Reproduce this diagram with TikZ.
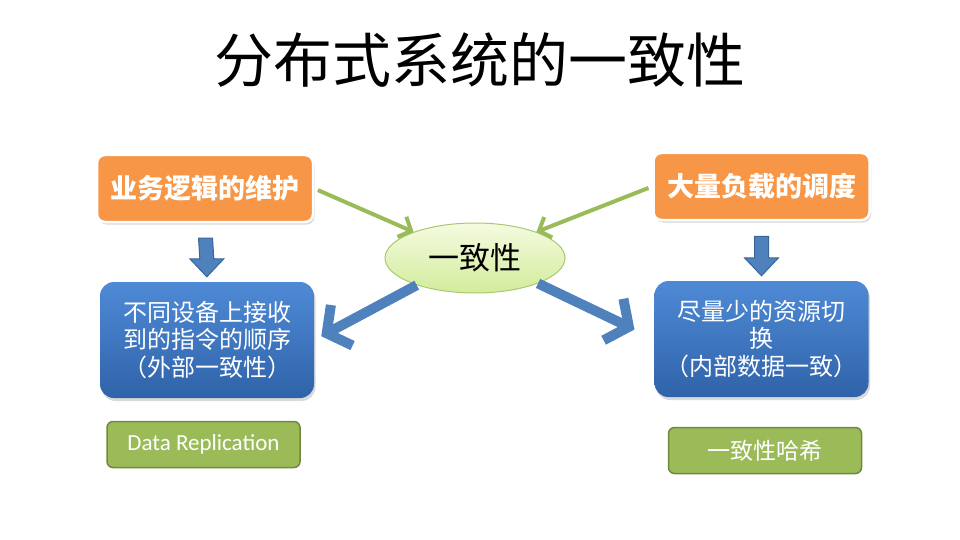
\documentclass[tikz,border=0pt]{standalone}
\usepackage{fontspec}
\setmainfont{Carlito}
\newfontfamily\cjk{Noto Sans CJK SC}
\usetikzlibrary{shapes.geometric, arrows.meta, shadows, calc}
\definecolor{orangefill}{HTML}{F79646}
\definecolor{bluetop}{HTML}{4F8AD6}
\definecolor{bluebot}{HTML}{2F63A9}
\definecolor{leaf}{HTML}{9BBB59}
\definecolor{leafdark}{HTML}{71893F}
\definecolor{paletop}{HTML}{F4FBE0}
\definecolor{palebot}{HTML}{D3EC9C}
\definecolor{paleedge}{HTML}{A9C970}
\definecolor{arrowblue}{HTML}{4F81BD}
\definecolor{arrowedge}{HTML}{3A6597}

\begin{document}
\begin{tikzpicture}[x=1pt, y=1pt, font=\cjk,
  orangebox/.style={rectangle, rounded corners=8pt, fill=orangefill, draw=white,
    line width=2.5pt, minimum width=216pt, minimum height=67pt, text=white,
    font=\cjk\bfseries\fontsize{27}{30}\selectfont,
    drop shadow={shadow xshift=1.5pt, shadow yshift=-2.5pt, opacity=0.3}},
  bluebox/.style={rectangle, rounded corners=14pt, top color=bluetop, bottom color=bluebot,
    draw=none, minimum width=214pt, minimum height=116pt, text=white, align=center,
    font=\cjk\fontsize{24}{27.5}\selectfont,
    drop shadow={shadow xshift=1.5pt, shadow yshift=-3pt, opacity=0.3}},
  greenbox/.style={rectangle, rounded corners=6pt, fill=leaf, draw=leafdark,
    line width=1.5pt, minimum width=193pt, minimum height=46pt, text=white},
  core/.style={ellipse, top color=paletop, bottom color=palebot, draw=paleedge,
    line width=1pt, minimum width=180pt, minimum height=70pt, inner sep=0pt,
    font=\cjk\fontsize{31}{34}\selectfont},
  feedarrow/.style={draw=leaf, line width=4pt, -{Straight Barb[length=10pt, width=22pt]}},
  splitarrow/.style={draw=arrowblue, line width=10pt, -{Straight Barb[length=17pt, width=46pt]}},
  downarrow/.style={draw=arrowedge, line width=1pt, fill=arrowblue}]
  \useasboundingbox (0,0) rectangle (960,-540);

  % Title
  \node (title) at (480,-60) {\fontsize{59}{62}\selectfont 分布式系统的一致性};

  % Sources
  \node[orangebox] (lo) at (205,-188.5) {业务逻辑的维护};
  \node[orangebox] (ro) at (761.5,-186.5) {大量负载的调度};

  % Core
  \node[core] (cons) at (475,-258) {一致性};

  % Requirements
  \node[bluebox] (lb) at (207,-340) {不同设备上接收\\到的指令的顺序\\（外部一致性）};
  \node[bluebox] (rb) at (761.5,-339) {尽量少的资源切\\换\\（内部数据一致）};

  % Solutions
  \node[greenbox, font=\fontsize{23}{26}\selectfont] (lg) at (203.5,-444.5) {Data Replication};
  \node[greenbox, font=\cjk\fontsize{23}{26}\selectfont] (rg) at (765,-450.5) {一致性哈希};

  % Connectors
  \draw[feedarrow, shorten <=4pt] (lo.east) -- (cons.157);
  \draw[feedarrow, shorten <=4pt] (ro.west) -- (cons.23);
  \draw[splitarrow, shorten >=8pt] (cons.205) -- (lb.east);
  \draw[splitarrow, shorten >=22pt] (cons.-22) -- (rb.west);
  \foreach \top/\bot in {lo/lb, ro/rb} {
    \path ($(\top.south)!15pt!(\bot.north)$) coordinate (a)
          ($(\bot.north)!5pt!(\top.south)$) coordinate (b);
    \draw[downarrow] ($(a)+(-7,0)$) -- ($(b)+(-7,18)$) -- ($(b)+(-17,18)$) -- (b)
      -- ($(b)+(17,18)$) -- ($(b)+(7,18)$) -- ($(a)+(7,0)$) -- cycle;
  }
\end{tikzpicture}
\end{document}
